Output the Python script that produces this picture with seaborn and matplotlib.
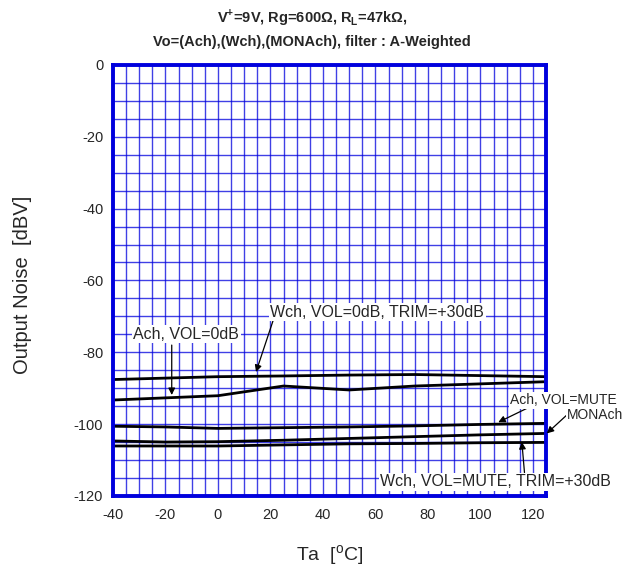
import numpy as np
import pandas as pd
import seaborn as sns
import matplotlib.pyplot as plt
from matplotlib.ticker import MultipleLocator

# data
temps = [-40, -20, 0, 25, 50, 75, 100, 125]
wch_0db = [-87.6, -87.2, -86.8, -86.6, -86.35, -86.2, -86.5, -86.8]
ach_0db = [-93.3, -92.7, -92.1, -89.4, -90.5, -89.4, -88.8, -88.2]
ach_mute = [-100.6, -100.8, -101.2, -101.0, -100.8, -100.5, -100.1, -99.8]
monach = [-104.7, -105.0, -104.9, -104.5, -104.0, -103.5, -103.0, -102.6]
wch_mute = [-106.1, -106.1, -106.1, -105.8, -105.5, -105.4, -105.2, -105.1]

series = {
    "Wch, VOL=0dB, TRIM=+30dB": wch_0db,
    "Ach, VOL=0dB": ach_0db,
    "Ach, VOL=MUTE": ach_mute,
    "MONAch": monach,
    "Wch, VOL=MUTE, TRIM=+30dB": wch_mute,
}
df = pd.concat([pd.DataFrame({"Ta": temps, "noise": v, "curve": k}) for k, v in series.items()])

sns.set_style("white")
plt.rcParams['font.family'] = ['Liberation Sans', 'DejaVu Sans']
plt.rcParams['mathtext.fontset'] = 'custom'
plt.rcParams['mathtext.rm'] = 'Liberation Sans'
plt.rcParams['mathtext.bf'] = 'Liberation Sans:bold'
plt.rcParams['axes.unicode_minus'] = False

fig = plt.figure(figsize=(6.24, 5.70), dpi=100)
ax = fig.add_axes([0.181, 0.130, 0.694, 0.756])

blue = '#0000dd'
ax.set_xlim(-40, 125)
ax.set_ylim(-120, 0)
ax.xaxis.set_major_locator(MultipleLocator(20))
ax.xaxis.set_minor_locator(MultipleLocator(5))
ax.yaxis.set_major_locator(MultipleLocator(20))
ax.yaxis.set_minor_locator(MultipleLocator(5))
ax.grid(which='both', color=blue, linewidth=1.0, alpha=0.75)
ax.tick_params(which='both', length=0, labelsize=10.5)
ax.tick_params(axis='x', pad=9)
ax.tick_params(axis='y', pad=7)
for s in ax.spines.values():
    s.set_color(blue)
    s.set_linewidth(2.8)
    s.set_visible(True)

sns.lineplot(data=df, x="Ta", y="noise", units="curve", estimator=None,
             color='black', linewidth=2, ax=ax, legend=False)

ax.set_xlabel("Ta  [$\\mathregular{^{o}}$C]", fontsize=14)
ax.set_ylabel("Output Noise  [dBV]", fontsize=14.5)
ax.xaxis.set_label_coords(0.5, -0.11)
ax.yaxis.set_label_coords(-0.187, 0.49)

box = dict(facecolor='white', edgecolor='none', pad=1.0)
arrow = dict(arrowstyle='-|>', color='black', lw=0.9, mutation_scale=10, shrinkA=0, shrinkB=0)

# labels: (text, text x, text y, ha, size, arrow tail, arrow head)
labels = [
    ("Wch, VOL=0dB, TRIM=+30dB", 20.0, -68.8, 'left', 11.5, (21.1, -71.0), (14.5, -85.5)),
    ("Ach, VOL=0dB", -12.0, -75.0, 'center', 11.5, (-17.6, -78.0), (-17.6, -91.9)),
    ("Ach, VOL=MUTE", 111.3, -93.4, 'left', 10, (118.9, -95.2), (106.8, -99.5)),
    ("MONAch", 133.0, -97.6, 'left', 10, (132.9, -97.5), (125.3, -102.6)),
    ("Wch, VOL=MUTE, TRIM=+30dB", 61.8, -116.1, 'left', 11.5, (116.8, -113.5), (115.8, -105.0)),
]
for txt, tx, ty, ha, size, tail, head in labels:
    ax.annotate("", xy=head, xytext=tail, arrowprops=arrow, annotation_clip=False)
    ax.text(tx, ty, txt, fontsize=size, ha=ha, va='center', bbox=box, clip_on=False, zorder=5)

fig.text(0.5, 0.970, "V$^{\\mathbf{+}}$=9V, Rg=600\u03a9, R$_{\\mathbf{L}}$=47k\u03a9,",
         ha='center', va='center', fontsize=10.5, fontweight='bold')
fig.text(0.5, 0.926, "Vo=(Ach),(Wch),(MONAch), filter : A-Weighted",
         ha='center', va='center', fontsize=10.5, fontweight='bold')

fig.savefig("out.png", dpi=100)
